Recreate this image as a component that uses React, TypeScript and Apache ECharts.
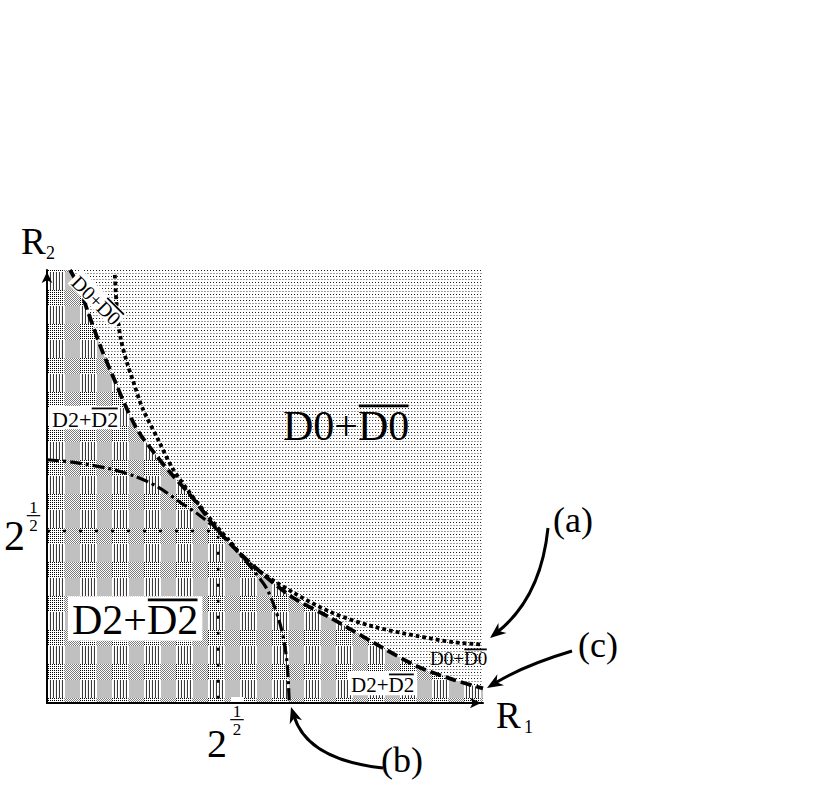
import React, { useEffect, useRef } from 'react';
import * as echarts from 'echarts';

// ---- data (R1, R2) ----
const xMax = 3.6;
const yMax = 3.56;
const sqrt2 = Math.SQRT2;

// (c) dashed boundary between D2+D2bar (below) and D0+D0bar (above)
const curveC: [number, number][] = [
  [0.19, 3.56], [0.26, 3.43], [0.34, 3.21], [0.45, 2.91], [0.56, 2.65], [0.64, 2.46],
  [0.75, 2.24], [0.89, 2.05], [1.03, 1.88], [1.2, 1.69], [1.41, 1.42], [1.68, 1.15],
  [2.01, 0.88], [2.36, 0.69], [2.69, 0.5], [3.06, 0.3], [3.36, 0.19], [3.6, 0.12],
];
// (a) dotted curve
const curveA: [number, number][] = [
  [0.56, 3.52], [0.58, 3.2], [0.61, 2.99], [0.66, 2.8], [0.71, 2.65], [0.79, 2.42],
  [0.92, 2.16], [1.03, 1.94], [1.17, 1.74], [1.36, 1.5], [1.5, 1.34], [1.68, 1.14],
  [2.03, 0.91], [2.36, 0.74], [2.69, 0.63], [3.06, 0.55], [3.36, 0.5], [3.6, 0.48],
];
// (b) dash-dot curve
const curveB: [number, number][] = [
  [0, 2.0], [0.21, 1.98], [0.5, 1.93], [0.71, 1.87], [0.91, 1.78], [1.1, 1.65],
  [1.25, 1.55], [1.41, 1.42], [1.55, 1.27], [1.68, 1.12], [1.82, 0.93], [1.93, 0.63],
  [1.98, 0.35], [2.0, 0],
];
// guide lines at sqrt(2)
const guide: [number, number][] = [[0, sqrt2], [sqrt2, sqrt2], [sqrt2, 0]];
// tick label 2^(1/2)
const tickBase = '2';
const tickNum = '1';
const tickDen = '2';
const xName = ['R', '1'];
const yName = ['R', '2'];
const calloutLabels = ['(a)', '(b)', '(c)'];

const FONT = '"Liberation Serif", "Times New Roman", serif';
const ZG = 100;

function makeTile(w: number, h: number, fn: (x: number, y: number) => string) {
  const c = document.createElement('canvas');
  c.width = w;
  c.height = h;
  const g = c.getContext('2d')!;
  for (let y = 0; y < h; y++) {
    for (let x = 0; x < w; x++) {
      g.fillStyle = fn(x, y);
      g.fillRect(x, y, 1, 1);
    }
  }
  return c;
}

let mctx: CanvasRenderingContext2D | null = null;
function measure(text: string, fs: number) {
  if (!mctx) mctx = document.createElement('canvas').getContext('2d');
  mctx!.font = `${fs}px ${FONT}`;
  return mctx!.measureText(text).width;
}

function setZ(el: any, z: number): any {
  el.z = z;
  if (el.children) el.children.forEach((c: any) => setZ(c, z));
  return el;
}

function textEl(text: string, x: number, y: number, fs: number, align = 'left') {
  return {
    type: 'text',
    x,
    y,
    z: ZG,
    style: {
      text,
      font: `${fs}px ${FONT}`,
      fill: '#000',
      textAlign: align,
      textVerticalAlign: 'top',
      verticalAlign: 'top',
    },
  };
}

// label like "D0+D0" with overline over the second part
function overLabel(opts: {
  x: number; y: number; fs: number; plain: string; bar: string; bg?: boolean;
  rotation?: number; padX?: number; padY?: number;
}) {
  const { x, y, fs, plain, bar, bg, rotation = 0 } = opts;
  const padX = opts.padX ?? 3;
  const padY = opts.padY ?? 2;
  const wL = measure(plain, fs);
  const wR = measure(bar, fs);
  const oy = fs * 0.02;
  const children: any[] = [];
  if (bg) {
    children.push({
      type: 'rect',
      shape: { x: -padX, y: oy - padY - 1.5, width: wL + wR + 2 * padX, height: fs * 0.95 + padY * 2 + 0.5 },
      style: { fill: '#fff' },
    });
  }
  children.push(textEl(plain, 0, 0, fs));
  children.push(textEl(bar, wL, 0, fs));
  children.push({
    type: 'rect',
    shape: { x: wL + fs * 0.02, y: oy - Math.max(1.8, fs * 0.065) / 2, width: wR - fs * 0.04, height: Math.max(1.8, fs * 0.065) },
    style: { fill: '#000' },
  });
  return setZ({ type: 'group', x, y, rotation, children }, ZG);
}

function fracLabel(cx: number, top: number, fs: number) {
  const w = measure(tickNum, fs) + 3;
  return [
    textEl(tickNum, cx, top, fs, 'center'),
    {
      type: 'line',
      z: ZG,
      shape: { x1: cx - w / 2 - 1, y1: top + fs * 0.98, x2: cx + w / 2 + 1, y2: top + fs * 0.98 },
      style: { stroke: '#000', lineWidth: 1.2 },
    },
    textEl(tickDen, cx, top + fs * 1.05, fs, 'center'),
  ];
}

function arrowHead(tip: [number, number], from: [number, number], len = 15, half = 6) {
  const dx = tip[0] - from[0];
  const dy = tip[1] - from[1];
  const d = Math.hypot(dx, dy);
  const ux = dx / d;
  const uy = dy / d;
  const bx = tip[0] - ux * len;
  const by = tip[1] - uy * len;
  return {
    type: 'polygon',
    z: ZG,
    shape: {
      points: [tip, [bx - uy * half, by + ux * half], [tip[0] - ux * len * 0.7, tip[1] - uy * len * 0.7], [bx + uy * half, by - ux * half]],
    },
    style: { fill: '#000' },
  };
}

function callout(p0: [number, number], cp: [number, number], tip: [number, number]) {
  const d = Math.hypot(tip[0] - cp[0], tip[1] - cp[1]);
  const back: [number, number] = [tip[0] - ((tip[0] - cp[0]) / d) * 10, tip[1] - ((tip[1] - cp[1]) / d) * 10];
  return [
    {
      type: 'bezierCurve',
      z: ZG,
      shape: { x1: p0[0], y1: p0[1], cpx1: cp[0], cpy1: cp[1], x2: back[0], y2: back[1] },
      style: { stroke: '#000', lineWidth: 3, fill: 'none' },
    },
    arrowHead(tip, cp, 16, 6.5),
  ];
}

export default function App() {
  const ref = useRef<HTMLDivElement>(null);
  useEffect(() => {
    if (!ref.current) return;
    const chart = echarts.init(ref.current, undefined, { renderer: 'svg' });

    const d0Tile = makeTile(3, 6, (x, y) => {
      if (y === 0 && x === 0) return '#1a1a1a';
      if (y === 3 && x <= 1) return '#a0a0a0';
      return '#ffffff';
    });
    const d2Tile = makeTile(32, 34, (x, y) => {
      const colGray = x < 16;
      const rowGray = y < 18;
      if (colGray && rowGray) return x === 0 ? '#ffffff' : '#c0c0c0';
      if (!colGray && rowGray) {
        const m = x % 3;
        return m === 0 ? '#3a3a3a' : m === 1 ? '#ffffff' : '#f2f2f2';
      }
      if (colGray && !rowGray) return (x + y) % 2 === 0 ? '#7a7a7a' : '#ffffff';
      return x % 2 === 0 && y % 2 === 0 ? '#000000' : '#ffffff';
    });

    const grid = { left: 47, top: 270, width: 436, height: 433 };
    const axisCommon = {
      z: 10,
      axisLine: {
        show: true,
        onZero: false,
        symbol: ['none', 'arrow'],
        symbolSize: [8, 11],
        symbolOffset: [0, -2],
        lineStyle: { color: '#000', width: 2 },
      },
      axisTick: { show: false },
      axisLabel: { show: false },
      splitLine: { show: false },
    };

    const option: any = {
      animation: false,
      grid: { ...grid, containLabel: false },
      xAxis: { type: 'value', min: 0, max: xMax, ...axisCommon },
      yAxis: { type: 'value', min: 0, max: yMax, ...axisCommon },
      series: [
        {
          type: 'line',
          name: 'D0+D0bar region',
          data: [[0, yMax], [xMax, yMax]],
          symbol: 'none',
          silent: true,
          lineStyle: { width: 0 },
          areaStyle: { color: { image: d0Tile, repeat: 'repeat' }, opacity: 1 },
          z: 1,
        },
        {
          type: 'line',
          name: 'D2+D2bar region',
          data: [[0, yMax], ...curveC],
          symbol: 'none',
          smooth: 0.3,
          silent: true,
          lineStyle: { width: 0 },
          areaStyle: { color: { image: d2Tile, repeat: 'repeat' }, opacity: 1 },
          z: 2,
        },
        {
          type: 'line',
          name: 'guide',
          data: guide,
          symbol: 'none',
          silent: true,
          lineStyle: { color: '#000', width: 2.5, type: [3, 13] },
          z: 3,
        },
        {
          type: 'line',
          name: '(b)',
          data: curveB,
          symbol: 'none',
          smooth: 0.3,
          silent: true,
          lineStyle: { color: '#000', width: 3.2, type: [12, 4, 3, 4] },
          z: 4,
        },
        {
          type: 'line',
          name: '(a)',
          data: curveA,
          symbol: 'none',
          smooth: 0.3,
          silent: true,
          lineStyle: { color: '#000', width: 3.8, type: [3.8, 3] },
          z: 5,
        },
        {
          type: 'line',
          name: '(c)',
          data: curveC,
          symbol: 'none',
          smooth: 0.3,
          silent: true,
          lineStyle: { color: '#000', width: 3.8, type: [11, 5] },
          z: 6,
        },
      ],
      graphic: [
        // axis names
        textEl(yName[0], 21, 223, 37),
        textEl(yName[1], 46, 244, 18),
        textEl(xName[0], 496, 697, 37),
        textEl(xName[1], 524, 718, 18),
        // tick labels 2^(1/2)
        textEl(tickBase, 4, 515, 42),
        ...fracLabel(33.5, 499, 17),
        { type: 'rect', z: ZG, shape: { x: 231, y: 697, width: 12, height: 5 }, style: { fill: '#fff' } },
        textEl(tickBase, 207, 723, 40),
        ...fracLabel(237, 703, 17),
        // region labels
        overLabel({ x: 283, y: 405, fs: 42, plain: 'D0+', bar: 'D0' }),
        overLabel({ x: 72, y: 599, fs: 42, plain: 'D2+', bar: 'D2', bg: true, padX: 4, padY: 2 }),
        overLabel({ x: 52, y: 408, fs: 22, plain: 'D2+', bar: 'D2', bg: true, padX: 2, padY: 1 }),
        overLabel({ x: 430, y: 649, fs: 19, plain: 'D0+', bar: 'D0' }),
        overLabel({ x: 351, y: 674, fs: 21, plain: 'D2+', bar: 'D2', bg: true, padX: 3, padY: 2 }),
        overLabel({ x: 82, y: 272, fs: 20, plain: 'D0+', bar: 'D0', bg: true, padX: 2, padY: 0, rotation: -Math.PI / 4 }),
        // callouts
        textEl(calloutLabels[0], 553, 502, 36),
        ...callout([548, 528], [541, 597], [490, 638]),
        textEl(calloutLabels[1], 381, 742, 36),
        ...callout([383, 768], [308, 760], [291, 707]),
        textEl(calloutLabels[2], 578, 627, 36),
        ...callout([572, 651], [525, 665], [487, 688]),
      ],
    };
    chart.setOption(option);
    return () => chart.dispose();
  }, []);
  return (
    <div
      ref={ref}
      style={{ position: 'fixed', left: 0, top: 0, width: 817, height: 790, background: '#fff' }}
    />
  );
}
